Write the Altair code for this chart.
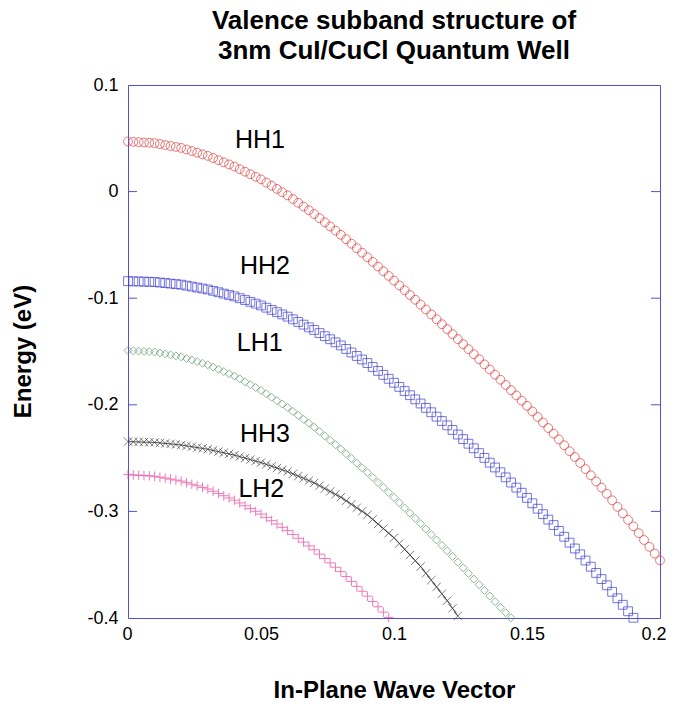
import altair as alt
import pandas as pd

STEP = 0.002  # spacing of the sampled wave vectors

HH1 = [0.0470, 0.0467, 0.0464, 0.0461, 0.0458, 0.0455, 0.0446, 0.0437, 0.0428, 0.0419,
       0.0410, 0.0395, 0.0380, 0.0365, 0.0350, 0.0335, 0.0315, 0.0295, 0.0275, 0.0255,
       0.0235, 0.0211, 0.0187, 0.0163, 0.0139, 0.0115, 0.0085, 0.0055, 0.0025, -0.0005,
       -0.0035, -0.0070, -0.0105, -0.0140, -0.0175, -0.0210, -0.0249, -0.0288, -0.0327, -0.0366,
       -0.0405, -0.0447, -0.0489, -0.0531, -0.0573, -0.0615, -0.0659, -0.0703, -0.0747, -0.0791,
       -0.0835, -0.0880, -0.0925, -0.0970, -0.1015, -0.1060, -0.1106, -0.1152, -0.1198, -0.1244,
       -0.1290, -0.1337, -0.1384, -0.1431, -0.1478, -0.1525, -0.1573, -0.1621, -0.1669, -0.1717,
       -0.1765, -0.1814, -0.1863, -0.1912, -0.1961, -0.2010, -0.2062, -0.2114, -0.2166, -0.2218,
       -0.2270, -0.2325, -0.2380, -0.2435, -0.2490, -0.2545, -0.2603, -0.2661, -0.2719, -0.2777,
       -0.2835, -0.2896, -0.2957, -0.3018, -0.3079, -0.3140, -0.3204, -0.3268, -0.3332, -0.3396,
       -0.3460]

HH2 = [-0.0840, -0.0842, -0.0843, -0.0845, -0.0846, -0.0848, -0.0853, -0.0858, -0.0863, -0.0868,
       -0.0873, -0.0882, -0.0891, -0.0900, -0.0909, -0.0918, -0.0931, -0.0944, -0.0957, -0.0970,
       -0.0983, -0.1000, -0.1017, -0.1034, -0.1051, -0.1068, -0.1089, -0.1110, -0.1131, -0.1152,
       -0.1173, -0.1198, -0.1223, -0.1248, -0.1273, -0.1298, -0.1327, -0.1356, -0.1385, -0.1414,
       -0.1443, -0.1476, -0.1509, -0.1542, -0.1575, -0.1608, -0.1645, -0.1682, -0.1719, -0.1756,
       -0.1793, -0.1832, -0.1871, -0.1910, -0.1949, -0.1988, -0.2029, -0.2070, -0.2111, -0.2152,
       -0.2193, -0.2236, -0.2279, -0.2322, -0.2365, -0.2408, -0.2453, -0.2498, -0.2543, -0.2588,
       -0.2633, -0.2681, -0.2729, -0.2777, -0.2825, -0.2873, -0.2924, -0.2975, -0.3026, -0.3077,
       -0.3128, -0.3183, -0.3238, -0.3293, -0.3348, -0.3403, -0.3461, -0.3519, -0.3577, -0.3635,
       -0.3693, -0.3754, -0.3815, -0.3876, -0.3937, -0.3998]

LH1 = [-0.1490, -0.1493, -0.1496, -0.1499, -0.1502, -0.1505, -0.1514, -0.1523, -0.1532, -0.1541,
       -0.1550, -0.1565, -0.1580, -0.1595, -0.1610, -0.1625, -0.1646, -0.1667, -0.1688, -0.1709,
       -0.1730, -0.1757, -0.1784, -0.1811, -0.1838, -0.1865, -0.1897, -0.1929, -0.1961, -0.1993,
       -0.2025, -0.2062, -0.2099, -0.2136, -0.2173, -0.2210, -0.2251, -0.2292, -0.2333, -0.2374,
       -0.2415, -0.2459, -0.2503, -0.2547, -0.2591, -0.2635, -0.2682, -0.2729, -0.2776, -0.2823,
       -0.2870, -0.2919, -0.2968, -0.3017, -0.3066, -0.3115, -0.3166, -0.3217, -0.3268, -0.3319,
       -0.3370, -0.3423, -0.3476, -0.3529, -0.3582, -0.3635, -0.3688, -0.3741, -0.3794, -0.3847,
       -0.3900, -0.3950, -0.3998]

HH3 = [-0.2345, -0.2347, -0.2348, -0.2350, -0.2351, -0.2353, -0.2358, -0.2362, -0.2367, -0.2372,
       -0.2377, -0.2385, -0.2393, -0.2401, -0.2409, -0.2417, -0.2428, -0.2439, -0.2450, -0.2461,
       -0.2472, -0.2486, -0.2500, -0.2514, -0.2528, -0.2542, -0.2559, -0.2576, -0.2593, -0.2610,
       -0.2627, -0.2648, -0.2669, -0.2690, -0.2711, -0.2732, -0.2759, -0.2786, -0.2813, -0.2840,
       -0.2867, -0.2900, -0.2933, -0.2966, -0.2999, -0.3032, -0.3075, -0.3118, -0.3161, -0.3204,
       -0.3247, -0.3301, -0.3355, -0.3409, -0.3463, -0.3517, -0.3581, -0.3645, -0.3709, -0.3773,
       -0.3837, -0.3909, -0.3981]

LH2 = [-0.2655, -0.2658, -0.2661, -0.2664, -0.2667, -0.2670, -0.2679, -0.2688, -0.2697, -0.2706,
       -0.2715, -0.2730, -0.2745, -0.2760, -0.2775, -0.2790, -0.2811, -0.2832, -0.2853, -0.2874,
       -0.2895, -0.2921, -0.2947, -0.2973, -0.2999, -0.3025, -0.3056, -0.3087, -0.3118, -0.3149,
       -0.3180, -0.3216, -0.3252, -0.3288, -0.3324, -0.3360, -0.3401, -0.3442, -0.3483, -0.3524,
       -0.3565, -0.3611, -0.3657, -0.3703, -0.3749, -0.3795, -0.3845, -0.3895, -0.3945, -0.3995]

LABELS = ["HH1", "HH2", "LH1", "HH3", "LH2"]
LABEL_K = [0.0402, 0.0421, 0.0409, 0.0421, 0.0415]
LABEL_E = [0.0406, -0.0770, -0.1495, -0.2348, -0.2865]

X_TICKS = [0, 0.05, 0.1, 0.15, 0.2]
Y_TICKS = [0.1, 0, -0.1, -0.2, -0.3, -0.4]
INNER_TICKS = [0, -0.1, -0.2, -0.3]

FONT = "Liberation Sans"
FRAME = "#5252cc"


def band(vals):
    return pd.DataFrame({"k": [round(i * STEP, 3) for i in range(len(vals))], "E": vals})


X = alt.X("k:Q", scale=alt.Scale(domain=[0, 0.2], nice=False, zero=False),
          axis=alt.Axis(values=X_TICKS, labelExpr="toString(datum.value)", ticks=False,
                        domain=False, grid=False, labelFontSize=18, labelFont=FONT,
                        labelColor="black", labelPadding=7, labelFlush=True,
                        labelFlushOffset=6,
                        title="In-Plane Wave Vector", titleFont=FONT, titleFontSize=24,
                        titleFontWeight="bold", titleColor="black", titleX=266, titleY=79,
                        titleBaseline="alphabetic", titleAnchor="middle"))
Y = alt.Y("E:Q", scale=alt.Scale(domain=[-0.4, 0.1], nice=False, zero=False),
          axis=alt.Axis(values=Y_TICKS, labelExpr="toString(datum.value)", ticks=False,
                        domain=False, grid=False, labelFontSize=18, labelFont=FONT,
                        labelColor="black", labelPadding=10, labelFlush=False,
                        title="Energy (eV)", titleFont=FONT, titleFontSize=24,
                        titleFontWeight="bold", titleColor="black", titleX=-98, titleY=266,
                        titleBaseline="alphabetic", titleAngle=270, titleAnchor="middle"))

hh1 = alt.Chart(band(HH1)).mark_point(shape="circle", filled=False, size=78,
                                      color="#e03a3a", strokeWidth=1).encode(x=X, y=Y)
hh2 = alt.Chart(band(HH2)).mark_point(shape="square", filled=False, size=78,
                                      color="#3c3cd2", strokeWidth=1).encode(x=X, y=Y)
lh1 = alt.Chart(band(LH1)).mark_point(shape="diamond", filled=False, size=64,
                                      color="#5f9a6e", strokeWidth=1).encode(x=X, y=Y)
hh3_line = alt.Chart(band(HH3)).mark_line(color="#222222", strokeWidth=0.8).encode(x=X, y=Y)
hh3 = alt.Chart(band(HH3)).mark_point(shape="M-1,-1L1,1M-1,1L1,-1", filled=False, size=70,
                                      color="#333333", strokeWidth=0.9).encode(x=X, y=Y)
lh2 = alt.Chart(band(LH2)).mark_point(shape="M-1,0L1,0M0,-1L0,1", filled=False, size=90,
                                      color="#e8409a", strokeWidth=1).encode(x=X, y=Y)

ticks_df = pd.DataFrame({"E": INNER_TICKS})
left_ticks = alt.Chart(ticks_df).mark_rule(color=FRAME, strokeWidth=1).encode(
    y=Y, x=alt.value(0), x2=alt.value(9))
right_ticks = alt.Chart(ticks_df).mark_rule(color=FRAME, strokeWidth=1).encode(
    y=Y, x=alt.value(523), x2=alt.value(532))

labels_df = pd.DataFrame({"label": LABELS, "k": LABEL_K, "E": LABEL_E})
labels = alt.Chart(labels_df).mark_text(align="left", baseline="alphabetic", fontSize=25,
                                        font=FONT, color="black").encode(
    x=X, y=Y, text="label:N")

chart = alt.layer(hh1, hh2, lh1, hh3_line, hh3, lh2, left_ticks, right_ticks, labels).properties(
    width=532, height=533,
    padding={"left": 120, "top": 77, "right": 7, "bottom": 82},
    autosize=alt.AutoSizeParams(type="none"),
    title=alt.Title(text=["Valence subband structure of", "3nm CuI/CuCl Quantum Well"],
                    font=FONT, fontSize=26, fontWeight="bold", color="black",
                    anchor="middle", offset=12, lineHeight=30),
).configure(background="white").configure_view(stroke=FRAME, strokeWidth=1)

chart.save("out.html", embed_options={"renderer": "svg", "actions": False})
